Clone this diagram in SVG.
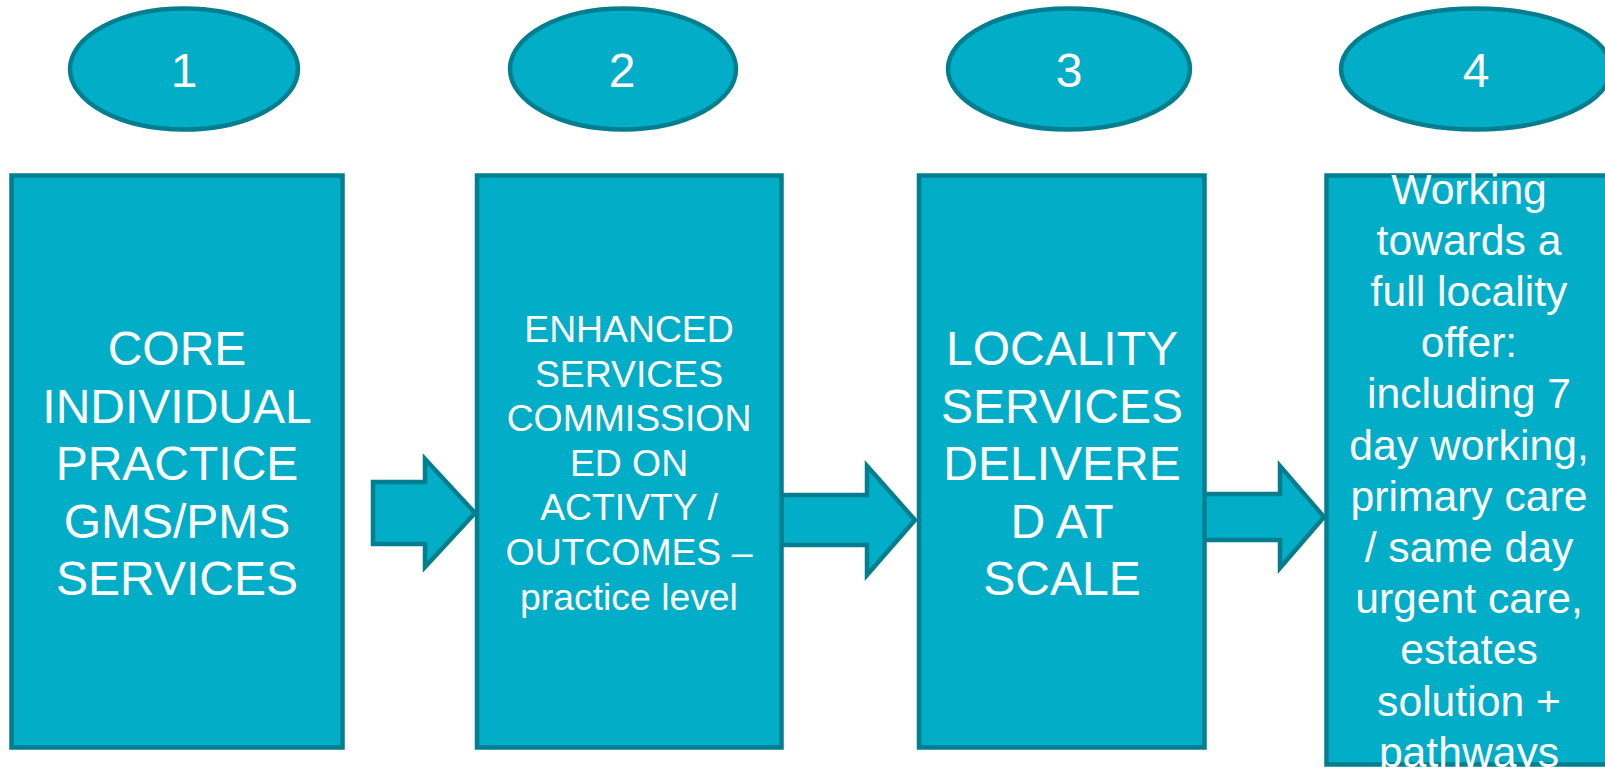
<svg xmlns="http://www.w3.org/2000/svg" width="1605" height="770" viewBox="0 0 1605 770">
<defs>
<style>
.shape{fill:#02ADC7;stroke:#027E8E;stroke-width:4.5;stroke-linejoin:miter}
.num{font-family:"Liberation Sans",Arial,sans-serif;font-size:48px;fill:#fff;text-anchor:middle}
.t48{font-family:"Liberation Sans",Arial,sans-serif;font-size:48px;fill:#fff;text-anchor:middle}
.t37{font-family:"Liberation Sans",Arial,sans-serif;font-size:37.33px;fill:#fff;text-anchor:middle}
.t43{font-family:"Liberation Sans",Arial,sans-serif;font-size:42.67px;fill:#fff;text-anchor:middle}
</style>
<clipPath id="clip4"><rect x="1322" y="171" width="300" height="597"/></clipPath>
</defs>
<rect width="1605" height="770" fill="#fff"/>
<g id="connectors">
<polygon class="shape" points="373,482 425,482 425,459 475,513 425,567 425,544 373,544"/>
<polygon class="shape" points="770,495 867,495 867,466 915,520 867,575 867,545 770,545"/>
<polygon class="shape" points="1195,494 1280,494 1280,466 1324,517 1280,568 1280,540 1195,540"/>
</g>
<g id="ellipse1"><ellipse class="shape" cx="184" cy="69" rx="114" ry="60.5"/><text class="num" x="184" y="87">1</text></g>
<g id="ellipse2"><ellipse class="shape" cx="623" cy="69" rx="113" ry="60.5"/><text class="num" x="622" y="87">2</text></g>
<g id="ellipse3"><ellipse class="shape" cx="1069" cy="69" rx="121" ry="60.5"/><text class="num" x="1069" y="87">3</text></g>
<g id="ellipse4"><ellipse class="shape" cx="1476" cy="69" rx="135" ry="60.5"/><text class="num" x="1476" y="87">4</text></g>
<g id="box1"><rect class="shape" x="11.5" y="175.5" width="331" height="572"/>
<text class="t48" x="177" y="365">CORE</text>
<text class="t48" x="177" y="422.5">INDIVIDUAL</text>
<text class="t48" x="177" y="480">PRACTICE</text>
<text class="t48" x="177" y="537.5">GMS/PMS</text>
<text class="t48" x="177" y="595">SERVICES</text>
</g>
<g id="box2"><rect class="shape" x="477" y="175.5" width="304.5" height="572"/>
<text class="t37" x="629" y="342">ENHANCED</text>
<text class="t37" x="629" y="386.6">SERVICES</text>
<text class="t37" x="629" y="431.2">COMMISSION</text>
<text class="t37" x="629" y="475.8">ED ON</text>
<text class="t37" x="629" y="520.4">ACTIVTY /</text>
<text class="t37" x="629" y="565">OUTCOMES –</text>
<text class="t37" x="629" y="609.6">practice level</text>
</g>
<g id="box3"><rect class="shape" x="919" y="175.5" width="285.5" height="572"/>
<text class="t48" x="1062" y="365">LOCALITY</text>
<text class="t48" x="1062" y="422.5">SERVICES</text>
<text class="t48" x="1062" y="480">DELIVERE</text>
<text class="t48" x="1062" y="537.5">D AT</text>
<text class="t48" x="1062" y="595">SCALE</text>
</g>
<g id="box4"><rect class="shape" x="1326.5" y="175.5" width="286" height="589"/>
<g clip-path="url(#clip4)">
<text class="t43" x="1469" y="203.5">Working</text>
<text class="t43" x="1469" y="254.7">towards a</text>
<text class="t43" x="1469" y="305.9">full locality</text>
<text class="t43" x="1469" y="357.1">offer:</text>
<text class="t43" x="1469" y="408.3">including 7</text>
<text class="t43" x="1469" y="459.5">day working,</text>
<text class="t43" x="1469" y="510.7">primary care</text>
<text class="t43" x="1469" y="561.9">/ same day</text>
<text class="t43" x="1469" y="613.1">urgent care,</text>
<text class="t43" x="1469" y="664.3">estates</text>
<text class="t43" x="1469" y="715.5">solution +</text>
<text class="t43" x="1469" y="766.7">pathways</text>
</g>
</g>
</svg>
